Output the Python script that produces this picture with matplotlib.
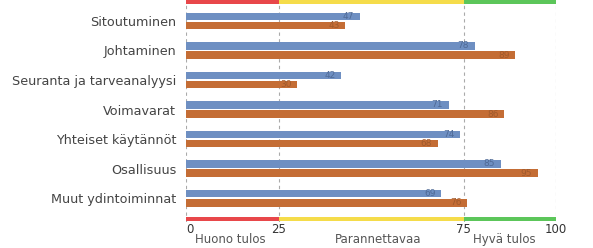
import numpy as np
import matplotlib
matplotlib.use("Agg")
import matplotlib.pyplot as plt

# %%
# data
categories = ["Sitoutuminen", "Johtaminen", "Seuranta ja tarveanalyysi",
              "Voimavarat", "Yhteiset käytännöt", "Osallisuus",
              "Muut ydintoiminnat"]
series_a = [47, 78, 42, 71, 74, 85, 69]
series_b = [43, 89, 30, 86, 68, 95, 76]

tick_values = [0, 25, 75, 100]
zone_edges = [0, 25, 75, 100]
zone_colors = ["#E8474A", "#F5DC4A", "#5CC65A"]
zone_labels = ["Huono tulos", "Parannettavaa", "Hyvä tulos"]
zone_label_x = [12, 52, 86]

# %%
blue = "#6E8FC2"
orange = "#C46D35"

fig = plt.figure(figsize=(5.93, 2.48), dpi=100)
ax = fig.add_axes([186 / 593, 1 - 222 / 248, 370 / 593, 222 / 248])

y = np.arange(len(categories))
h = 0.26
off = 0.155
ax.barh(y - off, series_a, height=h, color=blue, zorder=3)
ax.barh(y + off, series_b, height=h, color=orange, zorder=3)

for yi, a, b in zip(y, series_a, series_b):
    ax.text(a - 1.5, yi - off, str(a), ha="right", va="center", fontsize=6.5,
            color="#4F6A96", zorder=4)
    ax.text(b - 1.5, yi + off, str(b), ha="right", va="center", fontsize=6.5,
            color="#A05A2C", zorder=4)

ylo, yhi = -0.71, 6.81
ax.set_ylim(yhi, ylo)
ax.set_xlim(0, 100)

# coloured zone bands top and bottom
for (x0, x1), c in zip(zip(zone_edges[:-1], zone_edges[1:]), zone_colors):
    ax.fill_between([x0, x1], ylo, ylo + 0.14, color=c, zorder=2, lw=0)
    ax.fill_between([x0, x1], yhi - 0.16, yhi - 0.02, color=c, zorder=2, lw=0)

for v in tick_values:
    ax.axvline(v, color="#AAAAAA", ls=(0, (3, 3)), lw=0.8, zorder=1)

ax.set_yticks(y)
ax.set_yticklabels(categories, fontsize=9.2, color="#444444")
ax.tick_params(axis="y", length=0, pad=7)
ax.set_xticks([])
for s in ax.spines.values():
    s.set_visible(False)

# x tick labels and zone labels below the axes
for v in tick_values:
    ax.text(v, -0.005, str(v), transform=ax.get_xaxis_transform(),
            ha="center" if v else "left", va="top", fontsize=8.5, color="#333333")
for lbl, xv in zip(zone_labels, zone_label_x):
    ax.text(xv, -0.05, lbl, transform=ax.get_xaxis_transform(), ha="center",
            va="top", fontsize=8.5, color="#555555")

fig.savefig("out.png", dpi=100)
